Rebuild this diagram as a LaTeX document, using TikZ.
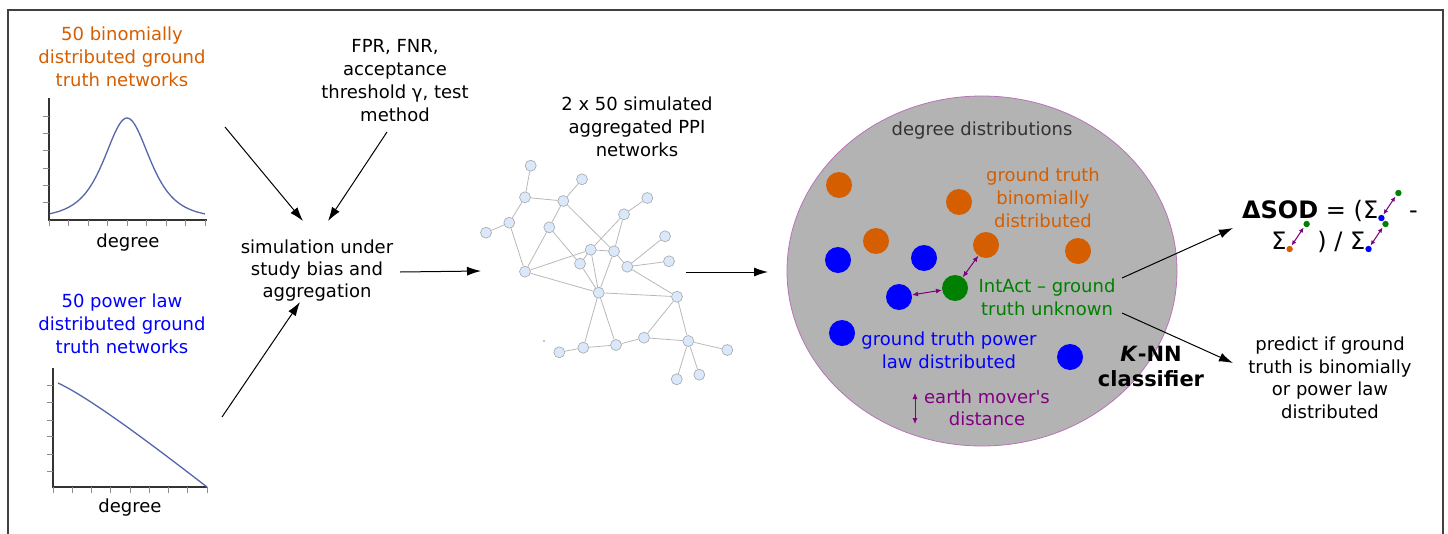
\documentclass[tikz,border=0pt]{standalone}
\usepackage{fontspec}
\setmainfont{DejaVu Sans}
\usetikzlibrary{arrows.meta,positioning,shapes.geometric}

\definecolor{binom}{HTML}{D55E00}
\definecolor{powlaw}{HTML}{0000FF}
\definecolor{intact}{HTML}{008000}
\definecolor{emd}{HTML}{800080}
\definecolor{distfill}{HTML}{B3B3B3}
\definecolor{degcurve}{HTML}{5566AA}
\definecolor{ppi}{HTML}{DAE8FC}

% little distance glyph used inside the SOD formula
\newcommand{\emdicon}[1]{\smash{\tikz[baseline=0pt, x=1pt, y=1pt, line width=1pt]{
  \draw[emd, {Latex[length=5pt,width=4.5pt]}-{Latex[length=5pt,width=4.5pt]}] (4,3.5) -- (16,21.5);
  \fill[#1] (2,0) circle (3.2);
  \fill[intact] (19,25) circle (3.2);}}}

\begin{document}
\begin{tikzpicture}
[x=1pt, y=-1pt,
 lbl/.style={align=center, font=\fontsize{18}{23}\selectfont, inner sep=0pt},
 flow/.style={-{Latex[length=14pt,width=9pt]}, line width=1pt},
 axis/.style={line width=2pt, black!80},
 axtick/.style={line width=0.8pt, black!45},
 netnode/.style={circle, draw=black!35, fill=ppi, minimum size=11pt, inner sep=0pt, line width=0.6pt},
 netedge/.style={black!28, line width=0.8pt},
 sample/.style={circle, minimum size=26pt, inner sep=0pt},
 emdarrow/.style={emd, line width=1pt, {Latex[length=6pt,width=5pt]}-{Latex[length=6pt,width=5pt]}}]
    \useasboundingbox (0,0) rectangle (1448,533);
    \draw[black!75, line width=1.5pt] (8,545) -- (8,10) -- (1443,10) -- (1443,545);

    % input distributions
    \node[lbl, binom](binlbl) at (122,57) {50 binomially\\distributed ground\\truth networks};
    \draw[axis] (49,98) -- (49,220) -- (207,220);
    \foreach \t in {116,133,150,168,185,202} \draw[axtick] (43,\t) -- (49,\t);
    \foreach \t in {49,68.5,...,205} \draw[axtick] (\t,220) -- (\t,226);
    \draw[degcurve, line width=1.3pt] plot[domain=50:205, samples=90, smooth]
        (\x, {219 - 101/(1+((\x-127)/42)^2)^2});
    \node[lbl](bindeg) at (128,243) {degree};

    \node[lbl, powlaw](pwlbl) at (122,324) {50 power law\\distributed ground\\truth networks};
    \draw[axis] (53,368) -- (53,487) -- (207,487);
    \foreach \t in {385,402,420,436,454,471} \draw[axtick] (47,\t) -- (53,\t);
    \foreach \t in {53,72.25,...,207} \draw[axtick] (\t,487) -- (\t,493);
    \draw[degcurve, line width=1.3pt] (58,383) .. controls (90,398) and (150,443) .. (207,487);
    \node[lbl](pwdeg) at (130,508) {degree};

    % simulation step
    \node[lbl](params) at (395,81) {FPR, FNR,\\acceptance\\threshold γ, test\\method};
    \node[lbl, font=\fontsize{18}{22}\selectfont](sim) at (317,271) {simulation under\\study bias and\\aggregation};
    \coordinate (binout) at (225,127);
    \coordinate (pwout) at (222,417);
    \coordinate (parout) at (387,132);
    \coordinate (simin1) at (303,221);
    \coordinate (simin2) at (328,221);
    \coordinate (simin3) at (300,302);
    \coordinate (simout) at (400,272);
    \coordinate (netin) at (481,271);
    \draw[flow] (binout) -- (simin1);
    \draw[flow] (parout) -- (simin2);
    \draw[flow] (pwout) -- (simin3);
    \draw[flow] (simout) -- (netin);

    % aggregated PPI network
    \node[lbl](ppilbl) at (637,127) {2 x 50 simulated\\aggregated PPI\\networks};
    \foreach \n/\x/\y in {1/530.7/165.7, 2/582/179.3, 3/525/197.3, 4/563.3/201, 5/647.3/198,
        6/624/214.3, 7/509.3/222.7, 8/486/232.7, 9/549.3/227.3, 10/665/236.3,
        11/590.7/249.7, 12/614/251.3, 13/580/263.7, 14/627.3/266.7, 15/669/261.3,
        16/525/271.7, 17/598.7/292.7, 18/677/296.7, 19/644/337.7, 20/616/345,
        21/583.3/347.7, 22/688.3/341, 23/559.3/352.3, 24/727.3/350, 25/699.3/374.7,
        26/676.7/379.3}
        \node[netnode](n\n) at (\x,\y) {};
    \foreach \a/\b in {1/3, 2/4, 3/4, 3/7, 7/8, 7/16, 4/9, 4/12, 9/16, 9/13, 5/6, 6/11,
        6/12, 16/11, 16/17, 11/12, 11/13, 11/17, 13/17, 12/17, 12/14, 14/10, 14/15,
        14/18, 17/18, 17/21, 17/20, 18/19, 18/22, 19/20, 19/22, 20/21, 21/23, 22/24,
        22/25, 22/26}
        \draw[netedge] (n\a) -- (n\b);
    \fill (544,341) circle (0.7);
    \coordinate (netout) at (686,272);
    \coordinate (distin) at (768,272);
    \draw[flow] (netout) -- (distin);

    % space of degree distributions
    \node[ellipse, draw=emd!55, fill=distfill, line width=0.8pt,
          minimum width=390pt, minimum height=350pt](dists) at (982,271) {};
    \node[lbl, text=black!80](distlbl) at (982,131) {degree distributions};
    \foreach \n/\x/\y in {1/839/185, 2/959/202, 3/876/241, 4/986/245, 5/1078/251}
        \node[sample, fill=binom](b\n) at (\x,\y) {};
    \foreach \n/\x/\y in {1/838/260, 2/924/258, 3/899/297, 4/842/333, 5/1070/357}
        \node[sample, fill=powlaw](p\n) at (\x,\y) {};
    \node[sample, fill=intact](ia) at (955,288) {};
    \draw[emdarrow] (ia) -- (p3);
    \draw[emdarrow] (ia) -- (b4);
    \node[lbl, binom](binset) at (1043,198) {ground truth\\binomially\\distributed};
    \node[lbl, intact](iatxt) at (1047,297) {IntAct – ground\\truth unknown};
    \node[lbl, powlaw](pwset) at (949,350) {ground truth power\\law distributed};
    \node[lbl, emd, font=\fontsize{18}{22}\selectfont](emdtxt) at (987,408) {earth mover\textquotesingle s\\distance};
    \coordinate (emdtop) at (915,393);
    \coordinate (emdbot) at (915,424);
    \draw[emdarrow, line width=0.8pt] (emdtop) -- (emdbot);
    \node[lbl, font=\bfseries\fontsize{21}{25}\selectfont](knn) at (1151,366) {\textit{K}-NN\\classifier};

    % outputs
    \node[align=center, inner sep=0pt, font=\fontsize{24}{31}\selectfont](sod) at (1330,226)
        {\textbf{ΔSOD} = (Σ\emdicon{powlaw} -\\Σ\emdicon{binom} ) / Σ\emdicon{powlaw}};
    \node[lbl, font=\fontsize{18}{22.5}\selectfont](predict) at (1330,378)
        {predict if ground\\truth is binomially\\or power law\\distributed};
    \coordinate (iaup) at (1122,278);
    \coordinate (iadown) at (1122,313);
    \coordinate (sodin) at (1233,228);
    \coordinate (predin) at (1233,363);
    \draw[flow] (iaup) -- (sodin);
    \draw[flow] (iadown) -- (predin);
\end{tikzpicture}
\end{document}
